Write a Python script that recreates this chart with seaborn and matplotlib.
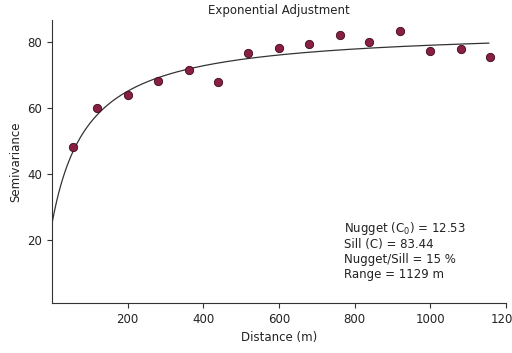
import numpy as np
import pandas as pd
import matplotlib
matplotlib.use("Agg")
import matplotlib.pyplot as plt
import seaborn as sns

# Experimental semivariogram points
distance = [55, 120, 202, 279, 361, 440, 519, 601, 678, 760, 839, 921, 1000, 1080, 1159]
semivariance = [48.2, 60.0, 63.9, 68.2, 71.5, 67.9, 76.4, 77.9, 79.4, 82.1, 80.0, 83.3, 77.0, 77.6, 75.2]

# Fitted model curve parameters (as drawn)
model_start = 25.0
model_amp = 59.0
model_k = 95.0
model_xmax = 1155

x_ticks = [200, 400, 600, 800, 1000, 1200]
y_ticks = [20, 40, 60, 80]

annotation = ["Nugget (C$_0$) = 12.53", "Sill (C) = 83.44", "Nugget/Sill = 15 %", "Range = 1129 m"]

sns.set_theme(style="ticks")
plt.rcParams['font.family'] = ['DejaVu Sans']

fs = 8.5
fig = plt.figure(figsize=(5.12, 3.53), dpi=100)
ax = fig.add_axes([52/512, 1-303/353, (506-52)/512, (303-20)/353])

hx = np.linspace(0, model_xmax, 400)
hy = model_start + model_amp * hx / (hx + model_k)
curve = pd.DataFrame({"x": hx, "y": hy})
sns.lineplot(data=curve, x="x", y="y", ax=ax, color="#333333", linewidth=0.9)

pts = pd.DataFrame({"Distance": distance, "Semivariance": semivariance})
sns.scatterplot(data=pts, x="Distance", y="Semivariance", ax=ax, s=36,
                color="#8a1f44", edgecolor="#3a0a1a", linewidth=0.6, zorder=3)

ax.set_xlim(0, 1200)
ax.set_ylim(1, 86.5)
ax.set_xticks(x_ticks)
ax.set_yticks(y_ticks)
ax.tick_params(labelsize=fs, length=3.5, width=0.8, color="#333333", labelcolor="#222222")
ax.set_xlabel("Distance (m)", fontsize=fs, color="#222222")
ax.set_ylabel("Semivariance", fontsize=fs, color="#222222")
ax.set_title("Exponential Adjustment", fontsize=fs, color="#222222", pad=4)
for s in ["top", "right"]:
    ax.spines[s].set_visible(False)
for s in ["left", "bottom"]:
    ax.spines[s].set_color("#333333")
    ax.spines[s].set_linewidth(0.8)

ax.text(0.643, 0.295, "\n".join(annotation), transform=ax.transAxes, fontsize=fs,
        color="#222222", va="top", ha="left", linespacing=1.18)

fig.savefig("out.png", dpi=100)
